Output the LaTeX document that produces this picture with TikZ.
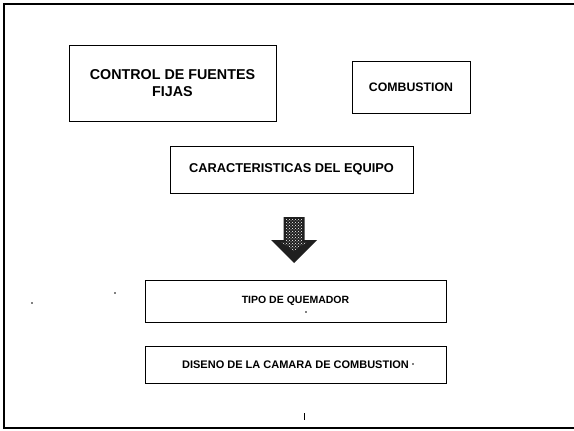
\documentclass[tikz,border=0pt]{standalone}
\usepackage{fontspec}
\setmainfont{Liberation Sans}
\usetikzlibrary{patterns}
\begin{document}
\begin{tikzpicture}[x=1pt,y=-1pt,
  box/.style={draw=black,line width=0.9pt,inner sep=0pt,align=center,font=\bfseries},
  speck/.style={fill=black,circle,inner sep=0pt,minimum size=1.6pt}]
\useasboundingbox (0,0) rectangle (574,431);
\begin{scope}
\clip (0,0) rectangle (574,431);
\draw[line width=1.8pt] (4,4) rectangle (590,428);
\end{scope}
\node[box,minimum width=207pt,minimum height=76pt,font=\bfseries\fontsize{14.3}{17}\selectfont] (b1) at (172.5,83) {CONTROL DE FUENTES\\FIJAS};
\node[box,minimum width=118pt,minimum height=52pt,font=\bfseries\fontsize{12.3}{14}\selectfont] (b2) at (411,87) {COMBUSTION};
\node[box,minimum width=243pt,minimum height=47pt,font=\bfseries\fontsize{12.8}{15}\selectfont] (b3) at (291.5,169.5) {CARACTERISTICAS DEL EQUIPO};
\node[box,minimum width=301pt,minimum height=42pt,font=\bfseries\fontsize{10.5}{12}\selectfont] (b4) at (295.5,301) {TIPO DE QUEMADOR};
\node[box,minimum width=301pt,minimum height=37pt,font=\bfseries\fontsize{11}{13}\selectfont] (b5) at (295.5,364.5) {DISENO DE LA CAMARA DE COMBUSTION};
% block arrow
\coordinate (at) at (294,217);
\fill[black!88] ([xshift=-10.5pt]at) -- ([xshift=10.5pt]at) -- ([shift={(10.5,23)}]at) -- ([shift={(23,23)}]at)
  -- ([shift={(0,46)}]at) -- ([shift={(-23,23)}]at) -- ([shift={(-10.5,23)}]at) -- cycle;
\fill[pattern=crosshatch dots,pattern color=white] ([shift={(-8.5,2)}]at) -- ([shift={(8.5,2)}]at) -- ([shift={(8.5,25)}]at) -- ([shift={(13,25)}]at)
  -- ([shift={(0,34)}]at) -- ([shift={(-13,25)}]at) -- ([shift={(-8.5,25)}]at) -- cycle;
% specks
\node[speck] (s1) at (32,303) {};
\node[speck] (s2) at (115,293) {};
\node[speck] (s3) at (306,312) {};
\node[speck] (s4) at (413,364) {};
\coordinate (t1) at (304.5,413);
\coordinate (t2) at (304.5,420);
\draw[line width=0.9pt] (t1) -- (t2);
\end{tikzpicture}
\end{document}
